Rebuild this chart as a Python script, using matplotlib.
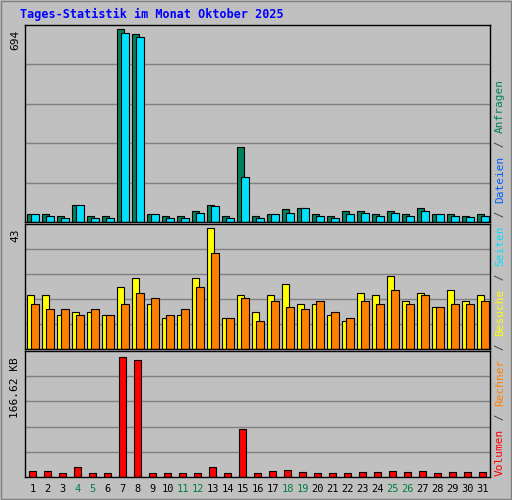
import matplotlib
matplotlib.use("Agg")
import matplotlib.pyplot as plt

days = list(range(1, 32))
weekend = [4, 5, 11, 12, 18, 19, 25, 26]
anfragen = [30,27,20,60,20,20,694,675,30,20,20,38,60,20,270,20,30,45,52,27,20,38,38,30,38,27,49,30,27,23,27]
dateien  = [27,23,16,60,16,16,680,665,27,16,16,31,56,16,160,16,27,34,49,23,16,30,34,23,31,23,38,27,23,19,23]
besuche  = [19,19,12,13,13,12,22,25,16,11,12,25,43,11,19,13,19,23,16,16,12,10,20,19,26,17,20,15,21,17,19]
rechner  = [16,14,14,12,14,12,16,20,18,12,14,22,34,11,18,10,17,15,14,17,13,11,17,16,21,16,19,15,16,16,17]
volumen  = [8,8,6,14,6,6,166,162,5,5,5,6,14,5,66,5,8,10,7,6,6,6,7,7,8,7,9,6,7,7,7]
max_top, max_mid, max_vol = 694, 43, 166.62

BG = '#c0c0c0'
fig = plt.figure(figsize=(5.12, 5.0), dpi=100, facecolor=BG)
W, H = 512, 500
mono = 'DejaVu Sans Mono'

def ax_at(x0, y0, x1, y1):
    ax = fig.add_axes([x0/W, 1-y1/H, (x1-x0)/W, (y1-y0)/H])
    ax.set_facecolor(BG)
    ax.set_xlim(0.5, 31.5)
    ax.set_xticks([])
    ax.set_yticks([])
    for s in ax.spines.values():
        s.set_color('black'); s.set_linewidth(1)
    return ax

def grid(ax, top, n):
    for k in range(1, n):
        ax.axhline(top*k/n, color='#808080', lw=1, zorder=0)

bw = 0.5
a1 = ax_at(25, 25, 490, 222); a1.set_ylim(0, max_top*1.02); grid(a1, max_top*1.02, 5)
a1.bar([d-0.12 for d in days], anfragen, bw, color='#00805c', edgecolor='black', lw=0.8)
a1.bar([d+0.16 for d in days], dateien, bw, color='#00e0ff', edgecolor='black', lw=0.8)
a2 = ax_at(25, 224, 490, 349); a2.set_ylim(0, max_mid*1.03); grid(a2, max_mid*1.03, 5)
a2.bar([d-0.12 for d in days], besuche, bw, color='#ffff00', edgecolor='black', lw=0.8)
a2.bar([d+0.16 for d in days], rechner, bw, color='#ff8000', edgecolor='black', lw=0.8)
a3 = ax_at(25, 351, 490, 477); a3.set_ylim(0, max_vol*1.05); grid(a3, max_vol*1.05, 5)
a3.bar(days, volumen, 0.5, color='#ff0000', edgecolor='black', lw=0.8)

fig.text(20/W, 1-14/H, 'Tages-Statistik im Monat Oktober 2025', color='#0000ff',
         fontsize=8.5, fontweight='bold', family=mono, va='center')
for lab, y in [('694', 30), ('43', 228), ('166.62 KB', 357)]:
    fig.text(15/W, 1-y/H, lab, rotation=90, fontsize=8, family=mono, va='top', ha='center')
for d in days:
    x = 25 + (d-0.5)/31*465
    fig.text(x/W, 1-489/H, str(d), fontsize=7.5, family=mono, ha='center', va='center',
             color='#008040' if d in weekend else 'black')

parts = [('Volumen', '#ff0000'), (' / ', '#404040'), ('Rechner', '#ff8000'), (' / ', '#404040'),
         ('Besuche', '#ffff00'), (' / ', '#404040'), ('Seiten', '#00e0ff'), (' / ', '#404040'),
         ('Dateien', '#0060ff'), (' / ', '#404040'), ('Anfragen', '#00805c')]
fs = 8.0
cw = 0.6021 * fs * 100 / 72 + 0.3
y = 476
for t, c in parts:
    fig.text(500/W, 1-y/H, t, rotation=90, fontsize=fs, family=mono, color=c,
             ha='center', va='bottom')
    y -= cw*len(t)

fig.add_artist(plt.Rectangle((1/W, 1/H), 1-2/W, 1-2/H, transform=fig.transFigure,
                             fill=False, ec='#808080', lw=1))
fig.savefig('out.png', dpi=100, facecolor=BG)
